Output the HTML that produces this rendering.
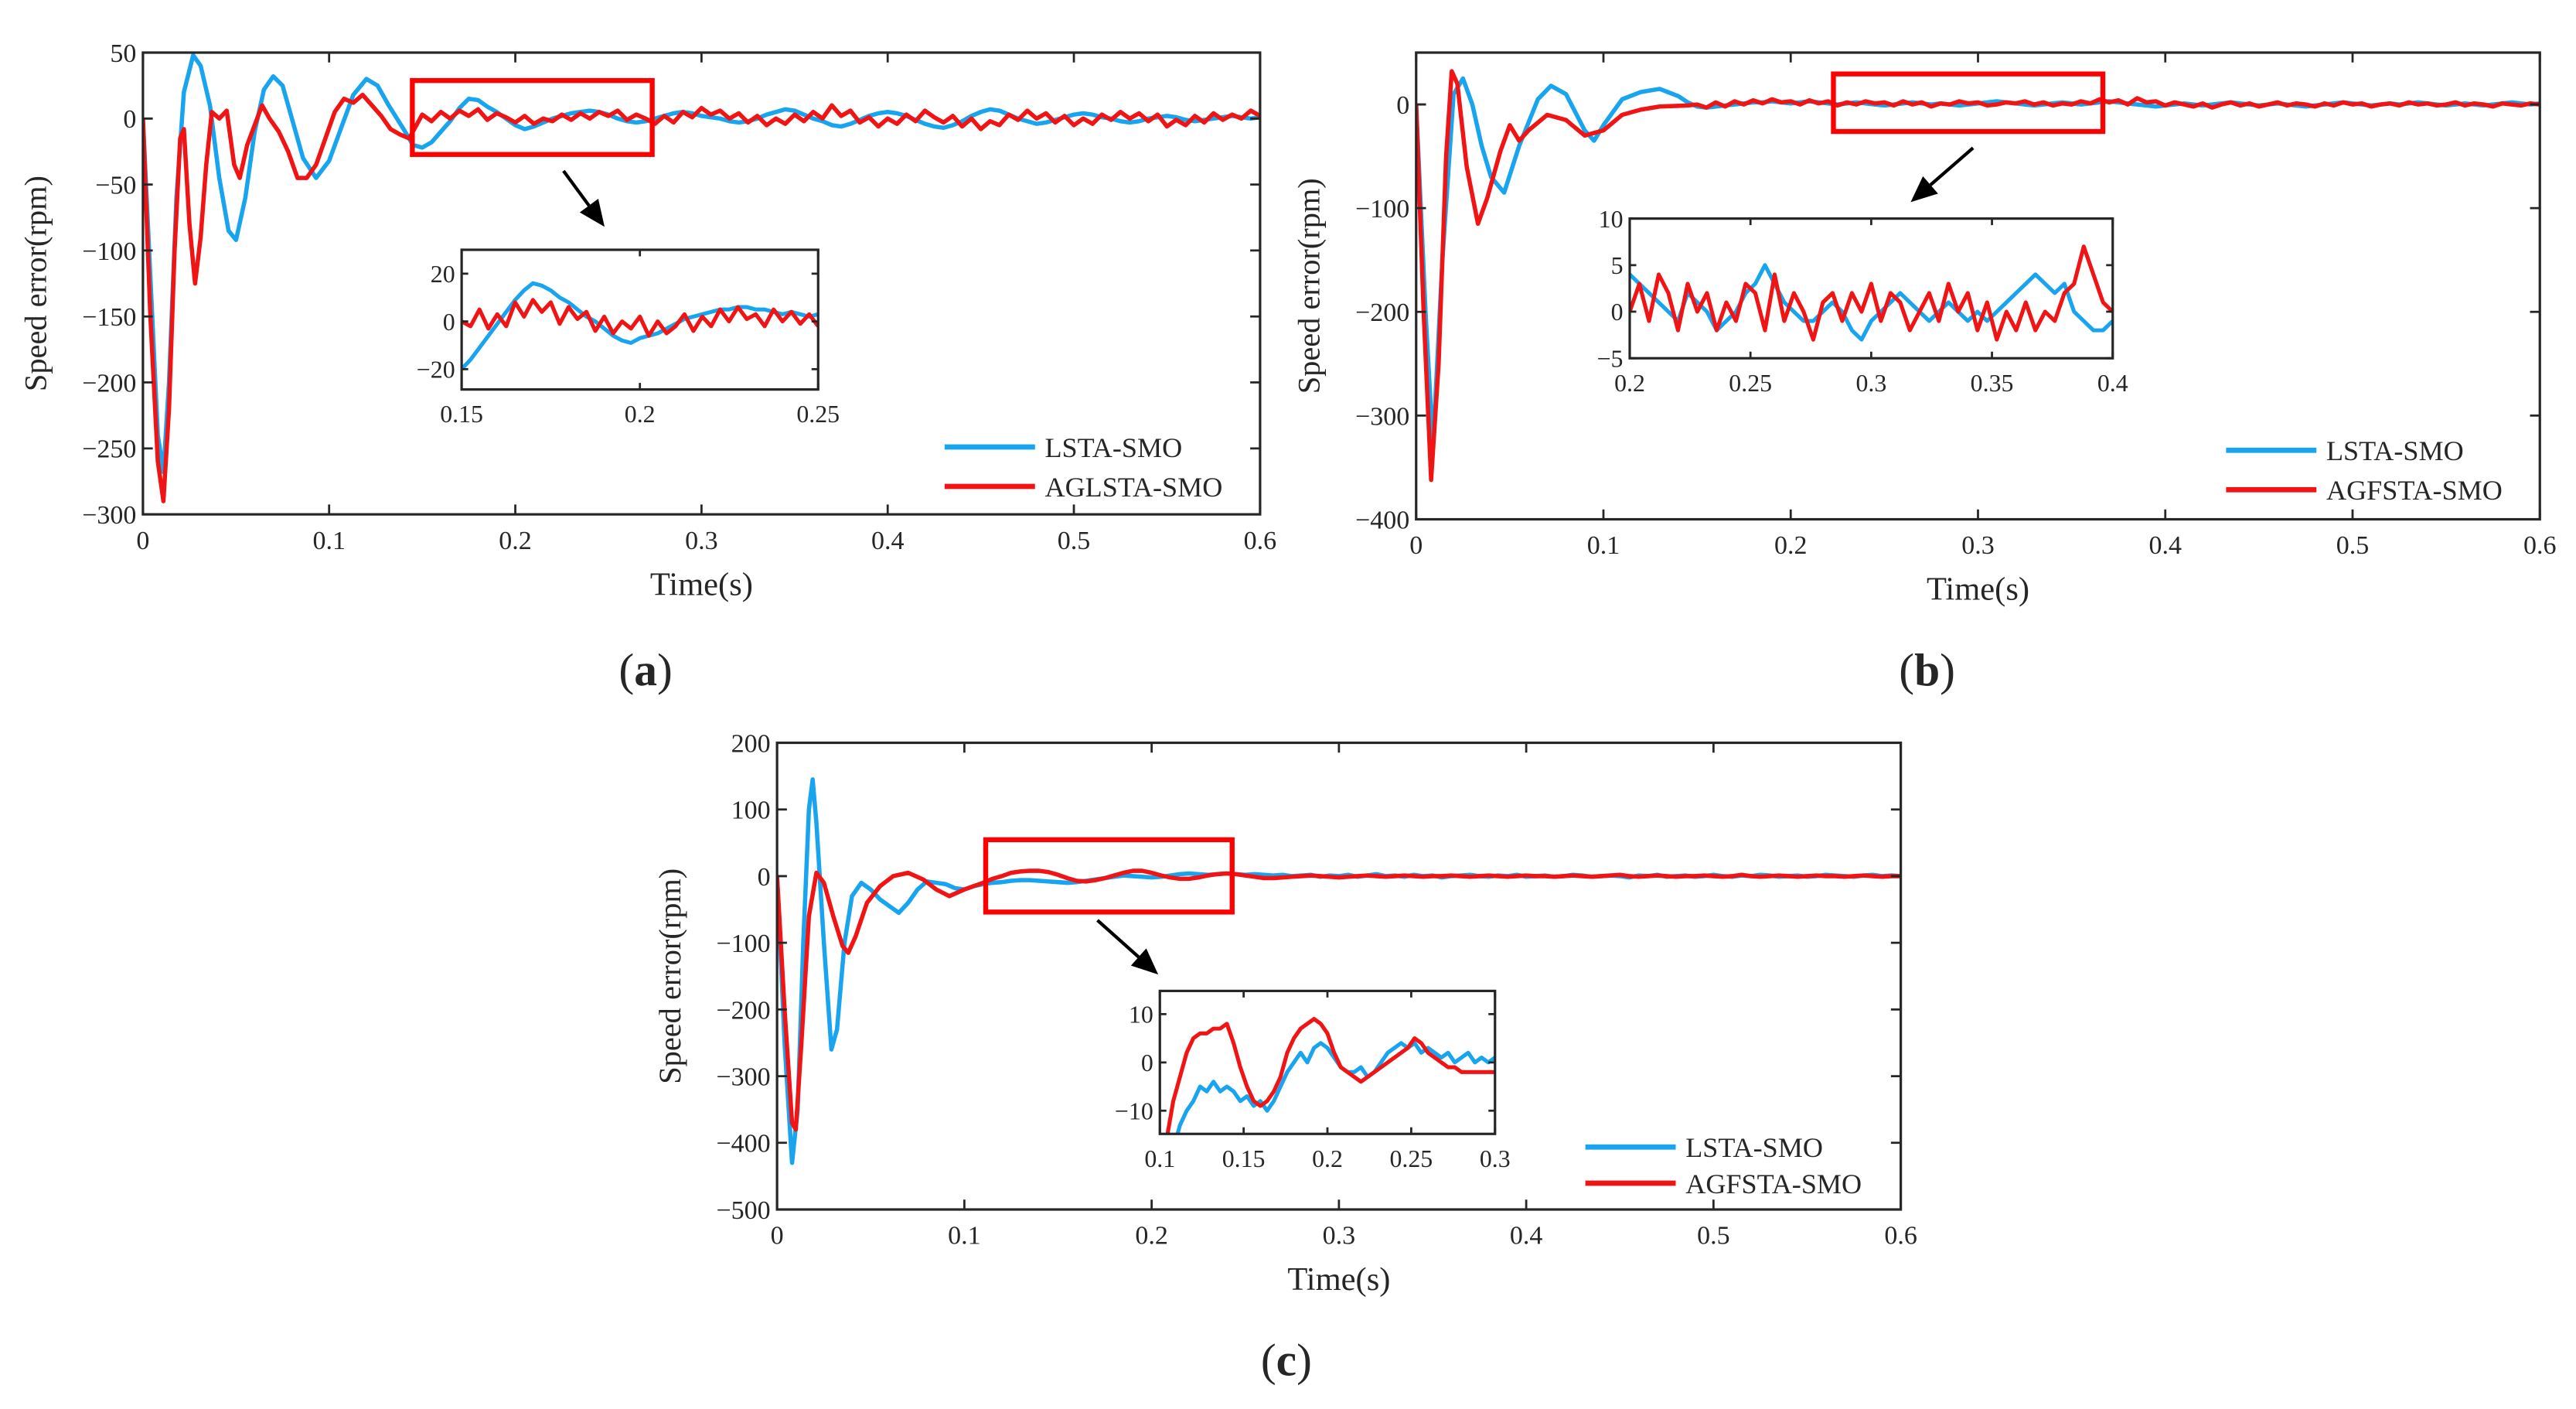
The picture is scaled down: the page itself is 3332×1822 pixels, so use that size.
<!DOCTYPE html>
<html><head><meta charset="utf-8"><style>html,body{margin:0;padding:0;background:#fff}svg{display:block}text{font-family:"Liberation Serif",serif;fill:#262626}</style></head>
<body>
<svg id="fig" xmlns="http://www.w3.org/2000/svg" width="3332" height="1822" viewBox="0 0 1568 857.4">
<rect width="1568" height="857.4" fill="#fff"/>
<text x="393" y="417" font-size="28" text-anchor="middle">(<tspan font-weight="bold">a</tspan>)</text>
<text x="1173" y="417" font-size="28" text-anchor="middle">(<tspan font-weight="bold">b</tspan>)</text>
<text x="783" y="837" font-size="28" text-anchor="middle">(<tspan font-weight="bold">c</tspan>)</text>
</svg>
<script>
// ---------- data ----------
const aBlueKey=[[0,0],[0.004,-120],[0.008,-240],[0.011,-268],[0.014,-200],[0.018,-60],[0.022,20],[0.027,48],[0.031,40],[0.036,10],[0.041,-45],[0.046,-85],[0.05,-92],[0.055,-60],[0.06,-10],[0.065,22],[0.07,32],[0.075,25],[0.08,0],[0.086,-30],[0.093,-45],[0.1,-32],[0.107,-5],[0.113,18],[0.12,30],[0.126,25],[0.132,10],[0.14,-8],[0.145,-20]];
const aRedKey=[[0,0],[0.004,-150],[0.008,-260],[0.011,-290],[0.014,-220],[0.017,-100],[0.02,-15],[0.022,-8],[0.025,-80],[0.028,-125],[0.031,-90],[0.034,-35],[0.037,5],[0.041,0],[0.045,6],[0.049,-35],[0.052,-45],[0.056,-20],[0.06,-5],[0.064,10],[0.068,0],[0.073,-10],[0.078,-25],[0.083,-45],[0.088,-45],[0.093,-35],[0.098,-15],[0.103,5],[0.108,15],[0.113,12],[0.118,18],[0.123,10],[0.128,2],[0.133,-8],[0.138,-12],[0.143,-15]];
const aTailStart=0.15, aTailStep=0.005;
const aBlueTail=[-22,-18,-10,-2,8,15,14,9,5,0,-5,-8,-6,-3,0,2,4,5,6,5,3,0,-2,-3,-2,0,2,4,5,4,2,1,0,-2,-3,-2,0,3,5,7,6,3,0,-2,-5,-6,-4,-1,2,4,5,4,2,-1,-4,-6,-7,-5,-2,2,5,7,6,3,0,-2,-4,-3,-1,1,3,4,3,1,0,-2,-3,-2,0,1,2,1,-1,-2,-1,0,1,2,1,0,1];
const aRedTail=[3,-2,5,0,6,2,7,-1,4,1,-3,2,-4,0,-2,3,-1,4,0,5,2,6,-1,3,0,-4,2,-3,5,1,8,3,6,0,4,-3,2,-5,0,-4,3,-2,5,0,10,2,6,-3,1,-6,0,-4,3,-2,6,1,-3,2,-6,0,-8,-2,-5,3,-1,6,0,4,-3,2,-5,0,-4,3,-1,5,0,4,-2,3,-6,-1,-5,2,-3,4,-1,3,0,6,2];
const aInStart=0.15, aInStep=0.0025;
const aInBlue=[-20,-16,-11,-6,-1,4,9,13,16,15,13,10,8,5,2,0,-3,-6,-8,-9,-7,-6,-5,-3,-1,1,2,3,4,5,5,6,6,5,5,4,3,4,3,2,3];
const aInRed=[0,-2,5,-3,3,-2,8,2,9,4,8,-1,6,1,4,-4,2,-5,0,-3,2,-6,0,-5,-2,3,-4,2,-2,5,0,6,1,3,-2,5,0,4,-1,3,-2];

const bBlueKey=[[0,0],[0.005,-200],[0.009,-330],[0.014,-150],[0.02,10],[0.025,25],[0.03,0],[0.035,-40],[0.04,-70],[0.047,-85],[0.055,-40],[0.065,5],[0.072,18],[0.08,10],[0.09,-25],[0.095,-35],[0.1,-20],[0.11,5],[0.12,12],[0.13,15],[0.14,8],[0.145,2]];
const bRedKey=[[0,0],[0.004,-200],[0.008,-362],[0.012,-250],[0.016,-50],[0.019,32],[0.022,20],[0.027,-60],[0.033,-115],[0.038,-90],[0.045,-45],[0.05,-20],[0.055,-35],[0.06,-25],[0.07,-10],[0.08,-15],[0.09,-30],[0.1,-25],[0.11,-10],[0.12,-5],[0.13,-2],[0.145,-1]];
const bTailStart=0.15, bTailStep=0.005;
const bBlueTail=[-2,-3,-2,-1,0,1,2,2,3,2,1,2,3,2,1,0,1,2,1,0,-1,0,1,2,1,0,1,0,-1,0,1,2,3,2,1,0,-1,0,1,2,1,0,1,2,3,2,1,0,-1,-2,-1,0,1,0,-1,0,1,2,1,0,-1,0,1,0,-1,-2,-1,0,1,2,1,0,-1,0,1,0,1,2,1,0,-1,0,1,0,-1,0,1,2,1,0,1];
const bRedTail=[0,-3,2,-2,3,0,4,1,5,2,3,0,4,1,3,-1,2,0,3,1,2,-1,3,0,2,-2,1,0,3,1,2,-1,0,2,1,3,0,2,-1,1,0,3,1,5,2,4,0,6,2,3,-1,2,0,-2,1,-3,0,2,-1,1,-2,0,2,-1,1,0,-2,1,-1,2,0,1,-2,0,1,-1,2,0,1,-1,0,2,-1,1,0,-2,1,0,-1,1,0];
const bInStart=0.2, bInStep=0.004;
const bInBlue=[4,3,2,1,0,-1,2,1,0,-2,-1,0,2,3,5,3,1,0,-1,-1,0,1,0,-2,-3,-1,0,1,2,1,0,-1,0,1,0,-1,0,-1,0,1,2,3,4,3,2,3,0,-1,-2,-2,-1];
const bInRed=[0,3,-1,4,2,-2,3,0,2,-2,1,-1,3,2,-2,4,-1,2,0,-3,1,2,-1,2,0,3,-1,2,1,-2,0,2,-1,3,0,2,-2,1,-3,0,-2,1,-2,0,-1,2,3,7,4,1,0];

const cBlueKey=[[0,0],[0.004,-250],[0.008,-430],[0.011,-350],[0.014,-100],[0.017,100],[0.019,145],[0.021,80],[0.025,-100],[0.029,-260],[0.032,-230],[0.036,-100],[0.04,-30],[0.045,-10],[0.05,-20],[0.055,-35],[0.06,-45],[0.065,-55],[0.07,-40],[0.075,-20],[0.08,-8],[0.085,-10],[0.09,-12],[0.095,-18],[0.1,-20],[0.105,-15],[0.11,-12],[0.115,-10]];
const cRedKey=[[0,0],[0.004,-200],[0.008,-370],[0.01,-380],[0.013,-250],[0.017,-60],[0.021,5],[0.025,-10],[0.03,-60],[0.035,-105],[0.038,-115],[0.042,-90],[0.048,-40],[0.055,-15],[0.062,0],[0.07,5],[0.078,-5],[0.085,-20],[0.092,-30],[0.1,-20],[0.11,-10],[0.115,-4]];
const cTailStart=0.12, cTailStep=0.005;
const cBlueTail=[-9,-7,-6,-6,-7,-8,-9,-10,-9,-7,-5,-3,-1,1,0,-1,-2,-1,1,3,4,3,2,3,4,3,2,3,2,1,2,0,1,2,-1,1,0,2,-1,1,3,0,1,-1,2,0,1,-2,0,1,2,0,-1,1,0,2,-1,0,1,-1,0,2,1,-1,0,1,0,-2,1,0,2,-1,0,1,-1,0,2,0,-1,1,0,2,1,-1,0,1,-1,0,2,1,0,-1,1,2,0,1,0];
const cRedTail=[0,5,7,8,8,6,2,-3,-7,-8,-6,-3,1,5,8,8,5,1,-2,-4,-4,-2,1,3,4,3,1,-1,-3,-3,-2,-1,0,1,0,-1,-2,-1,0,1,0,-1,0,1,0,-1,0,0,1,0,-1,0,1,0,-1,0,1,0,0,-1,0,1,0,-1,0,1,2,0,-1,0,1,0,-1,0,0,1,0,-1,0,2,0,-1,0,1,0,-1,0,1,0,0,-1,0,1,0,-1,0,0];
const cInStart=0.1, cInStep=0.004;
const cInBlue=[-30,-25,-18,-13,-10,-8,-5,-6,-4,-6,-5,-6,-8,-7,-9,-8,-10,-8,-5,-2,0,2,0,3,4,3,1,-1,-2,-2,-1,-3,-2,0,2,3,4,3,4,2,3,2,1,2,0,1,2,0,1,0,1];
const cInRed=[-25,-16,-8,-3,2,5,6,6,7,7,8,4,-1,-5,-8,-9,-8,-6,-3,2,5,7,8,9,8,6,2,-1,-2,-3,-4,-3,-2,-1,0,1,2,3,5,4,2,1,0,-1,-1,-2,-2,-2,-2,-2,-2];

const aYTicks=[-300,-250,-200,-150,-100,-50,0,50];
const bYTicks=[-400,-300,-200,-100,0];
const cYTicks=[-500,-400,-300,-200,-100,0,100,200];
const mainXTicks=[0,0.1,0.2,0.3,0.4,0.5,0.6];
const mainXLabels=["0","0.1","0.2","0.3","0.4","0.5","0.6"];
const aInXTicks=[0.15,0.2,0.25], aInYTicks=[-20,0,20];
const bInXTicks=[0.2,0.25,0.3,0.35,0.4], bInYTicks=[-5,0,5,10];
const cInXTicks=[0.1,0.15,0.2,0.25,0.3], cInYTicks=[-10,0,10];

// ---------- drawing ----------
const NS="http://www.w3.org/2000/svg";
const svg=document.getElementById('fig');
const BLUE="#19a4f0", RED="#f01414";
function mk(tag,attrs,parent){const e=document.createElementNS(NS,tag);for(const k in attrs)e.setAttribute(k,attrs[k]);(parent||svg).appendChild(e);return e;}
function series(key,start,step,tail){const p=key.slice();tail.forEach((v,i)=>p.push([start+step*i,v]));return p;}
function uni(start,step,vals){return vals.map((v,i)=>[start+step*i,v]);}
let clipId=0;
function axes(box,xd,yd,xt,xl,yt,fs,tl,name){
  const sx=t=>box.x0+(t-xd[0])/(xd[1]-xd[0])*(box.x1-box.x0);
  const sy=v=>box.y1-(v-yd[0])/(yd[1]-yd[0])*(box.y1-box.y0);
  const g=mk('g',{});
  
  
  const id='clip'+(clipId++);
  const cp=mk('clipPath',{id:id},g);mk('rect',{x:box.x0,y:box.y0,width:box.x1-box.x0,height:box.y1-box.y0},cp);
  const plot=mk('g',{'clip-path':'url(#'+id+')'},g);
  return {sx,sy,g,plot,finish(){
    mk('rect',{x:box.x0,y:box.y0,width:box.x1-box.x0,height:box.y1-box.y0,fill:'none',stroke:'#262626','stroke-width':1.5},g);
    xt.forEach((t,i)=>{const x=sx(t);
      const tk=mk('path',{d:`M${x},${box.y1}v${-tl}M${x},${box.y0}v${tl}`,stroke:'#262626','stroke-width':1.3},g);
      
      
      const lb=mk('text',{x:x,y:box.y1+fs+5,'font-size':fs,'text-anchor':'middle'},g);lb.textContent=xl?xl[i]:String(t);
      
      
    });
    yt.forEach(v=>{const y=sy(v);
      const tk=mk('path',{d:`M${box.x0},${y}h${tl}M${box.x1},${y}h${-tl}`,stroke:'#262626','stroke-width':1.3},g);
      
      
      const lb=mk('text',{x:box.x0-4,y:y+fs*0.35,'font-size':fs,'text-anchor':'end'},g);lb.textContent=String(v).replace('-','\u2212');
      
      
    });
  }};
}
function line(ax,pts,color,w,name){
  const d=pts.map((p,i)=>(i?'L':'M')+ax.sx(p[0]).toFixed(2)+','+ax.sy(p[1]).toFixed(2)).join('');
  const e=mk('path',{d:d,fill:'none',stroke:color,'stroke-width':w,'stroke-linejoin':'round'},ax.plot);
  
  
}
function panel(cfg){
  const ax=axes(cfg.box,[0,0.6],cfg.yd,mainXTicks,mainXLabels,cfg.yt,16,6,cfg.name);
  line(ax,cfg.blue,BLUE,2.6,'lsta-smo-line');
  line(ax,cfg.red,RED,2.6,'agsta-smo-line');
  ax.finish();
  const b=cfg.box;
  const xl=mk('text',{x:(b.x0+b.x1)/2,y:b.y1+49,'font-size':20,'text-anchor':'middle'});xl.textContent='Time(s)';
  
  
  const cy=(b.y0+b.y1)/2;
  const yl=mk('text',{x:b.x0-59,y:cy,'font-size':19,'text-anchor':'middle',transform:`rotate(-90 ${b.x0-59} ${cy})`});yl.textContent='Speed error(rpm)';
  
  
  // zoom rectangle
  const zr=mk('rect',{x:cfg.zoom[0],y:cfg.zoom[1],width:cfg.zoom[2]-cfg.zoom[0],height:cfg.zoom[3]-cfg.zoom[1],fill:'none',stroke:'#f00','stroke-width':3});
  
  
  // arrow
  const [x1,y1,x2,y2]=cfg.arrow;const ang=Math.atan2(y2-y1,x2-x1);const L=16,W=7;
  const bx=x2-L*Math.cos(ang),by=y2-L*Math.sin(ang);
  const ar=mk('g',{});
  
  
  mk('line',{x1:x1,y1:y1,x2:bx,y2:by,stroke:'#000','stroke-width':2},ar);
  mk('polygon',{points:`${x2},${y2} ${bx+W*Math.sin(ang)},${by-W*Math.cos(ang)} ${bx-W*Math.sin(ang)},${by+W*Math.cos(ang)}`,fill:'#000'},ar);
  // inset
  const ia=axes(cfg.inBox,cfg.inXd,cfg.inYd,cfg.inXt,null,cfg.inYt,15,4,'inset-axes');
  mk('rect',{x:cfg.inBox.x0,y:cfg.inBox.y0,width:cfg.inBox.x1-cfg.inBox.x0,height:cfg.inBox.y1-cfg.inBox.y0,fill:'#fff'},ia.plot);
  line(ia,cfg.inBlue,BLUE,2.4,'inset-lsta-line');
  line(ia,cfg.inRed,RED,2.4,'inset-red-line');
  ia.finish();
  // legend
  const lg=mk('g',{});
  
  
  const [lx,ly1,ly2]=cfg.legend;
  [[ly1,BLUE,'LSTA-SMO'],[ly2,RED,cfg.redName]].forEach(([y,c,t])=>{
    const it=mk('g',{},lg);
    
    
    mk('line',{x1:lx,y1:y,x2:lx+55,y2:y,stroke:c,'stroke-width':3.2},it);
    const tx=mk('text',{x:lx+61,y:y+6,'font-size':17},it);tx.textContent=t;
  });
}
panel({name:'panel-a',box:{x0:87,x1:767,y0:32,y1:313},yd:[-300,50],yt:aYTicks,
  blue:series(aBlueKey,aTailStart,aTailStep,aBlueTail),red:series(aRedKey,aTailStart,aTailStep,aRedTail),
  zoom:[251,49,397,94],arrow:[343,104,368,138],
  inBox:{x0:281,x1:498,y0:152,y1:237},inXd:[0.15,0.25],inYd:[-28.5,30],inXt:aInXTicks,inYt:aInYTicks,
  inBlue:uni(aInStart,aInStep,aInBlue),inRed:uni(aInStart,aInStep,aInRed),legend:[575,272,296],redName:'AGLSTA-SMO'});
panel({name:'panel-b',box:{x0:862,x1:1546,y0:32,y1:316},yd:[-400,50],yt:bYTicks,
  blue:series(bBlueKey,bTailStart,bTailStep,bBlueTail),red:series(bRedKey,bTailStart,bTailStep,bRedTail),
  zoom:[1116,45,1280,80],arrow:[1201,90,1163,123],
  inBox:{x0:992,x1:1286,y0:133,y1:218},inXd:[0.2,0.4],inYd:[-5,10],inXt:bInXTicks,inYt:bInYTicks,
  inBlue:uni(bInStart,bInStep,bInBlue),inRed:uni(bInStart,bInStep,bInRed),legend:[1355,274,298],redName:'AGFSTA-SMO'});
panel({name:'panel-c',box:{x0:473,x1:1157,y0:452,y1:736},yd:[-500,200],yt:cYTicks,
  blue:series(cBlueKey,cTailStart,cTailStep,cBlueTail),red:series(cRedKey,cTailStart,cTailStep,cRedTail),
  zoom:[600,511,750,555],arrow:[668,560,705,593],
  inBox:{x0:706,x1:910,y0:603,y1:690},inXd:[0.1,0.3],inYd:[-14.8,14.8],inXt:cInXTicks,inYt:cInYTicks,
  inBlue:uni(cInStart,cInStep,cInBlue),inRed:uni(cInStart,cInStep,cInRed),legend:[965,698,720],redName:'AGFSTA-SMO'});
</script>
</body></html>
